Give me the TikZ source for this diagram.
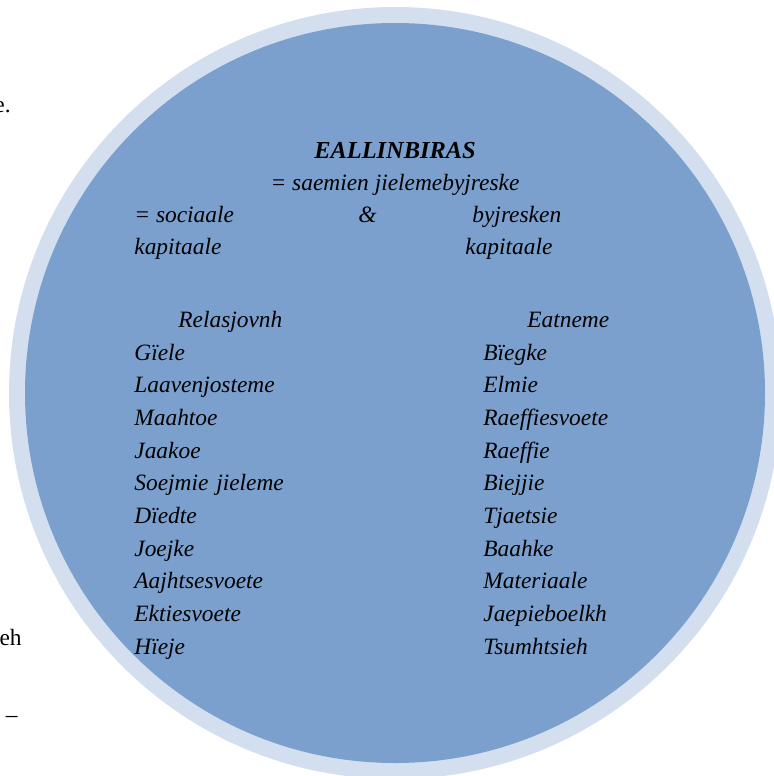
\documentclass[tikz,border=0pt]{standalone}
\usepackage{fontspec}
\setmainfont{Liberation Serif}
\usepackage{tikz}
\usetikzlibrary{positioning}
\definecolor{ringblue}{RGB}{211,223,238}
\definecolor{discblue}{RGB}{123,160,205}
\tikzset{
    % Define style for the words in the lists
    ord/.style={
           inner sep=0pt,
           text width=100pt,
           align=left,
           text height=9pt,
           text depth=3pt,
           font=\fontsize{11.7}{14}\selectfont\itshape},
    % Header lines in the disc
    rad/.style={
           inner sep=0pt,
           anchor=base west,
           font=\fontsize{11.7}{14}\selectfont\itshape},
    % Bits of the page text beside the figure
    side/.style={
           inner sep=0pt,
           anchor=base east,
           font=\fontsize{11.7}{14}\selectfont}
}

\begin{document}
\begin{tikzpicture}[x=0.5pt, y=-0.5pt, node distance=3.95pt]
    \useasboundingbox (0,0) rectangle (774,776);
    \clip (0,0) rectangle (774,776);
    \coordinate (midt) at (395,393);
    \fill[ringblue] (midt) circle[radius=193pt];
    \fill[discblue] (midt) circle[radius=185pt];

    \node[side] (frag1) at (11,112) {e.};
    \node[side] (frag2) at (22,645) {eh};
    \node[side] (frag3) at (18,722) {--};

    \node[rad, anchor=base, font=\fontsize{12.2}{14}\selectfont\bfseries\itshape] (tittel) at (395,158) {EALLINBIRAS};
    \node[rad, anchor=base] (under) at (395,190) {= saemien jielemebyjreske};
    \node[rad] (sos) at (134,222) {= sociaale};
    \node[rad] (og) at (358,222) {\&};
    \node[rad] (byj) at (472,222) {byjresken};
    \node[rad] (kap1) at (134,254) {kapitaale};
    \node[rad] (kap2) at (465,254) {kapitaale};

    \node[rad] (rel) at (178,327) {Relasjovnh};
    \node[rad] (eat) at (527,327) {Eatneme};

    % left list
    \node[ord, anchor=base west] (g1) at (134,360) {Gïele};
    \node[ord, below=of g1] (g2) {Laavenjosteme};
    \node[ord, below=of g2] (g3) {Maahtoe};
    \node[ord, below=of g3] (g4) {Jaakoe};
    \node[ord, below=of g4] (g5) {Soejmie jieleme};
    \node[ord, below=of g5] (g6) {Dïedte};
    \node[ord, below=of g6] (g7) {Joejke};
    \node[ord, below=of g7] (g8) {Aajhtsesvoete};
    \node[ord, below=of g8] (g9) {Ektiesvoete};
    \node[ord, below=of g9] (g10) {Hïeje};

    % right list
    \node[ord, anchor=base west] (b1) at (483,360) {Bïegke};
    \node[ord, below=of b1] (b2) {Elmie};
    \node[ord, below=of b2] (b3) {Raeffiesvoete};
    \node[ord, below=of b3] (b4) {Raeffie};
    \node[ord, below=of b4] (b5) {Biejjie};
    \node[ord, below=of b5] (b6) {Tjaetsie};
    \node[ord, below=of b6] (b7) {Baahke};
    \node[ord, below=of b7] (b8) {Materiaale};
    \node[ord, below=of b8] (b9) {Jaepieboelkh};
    \node[ord, below=of b9] (b10) {Tsumhtsieh};
\end{tikzpicture}
\end{document}
